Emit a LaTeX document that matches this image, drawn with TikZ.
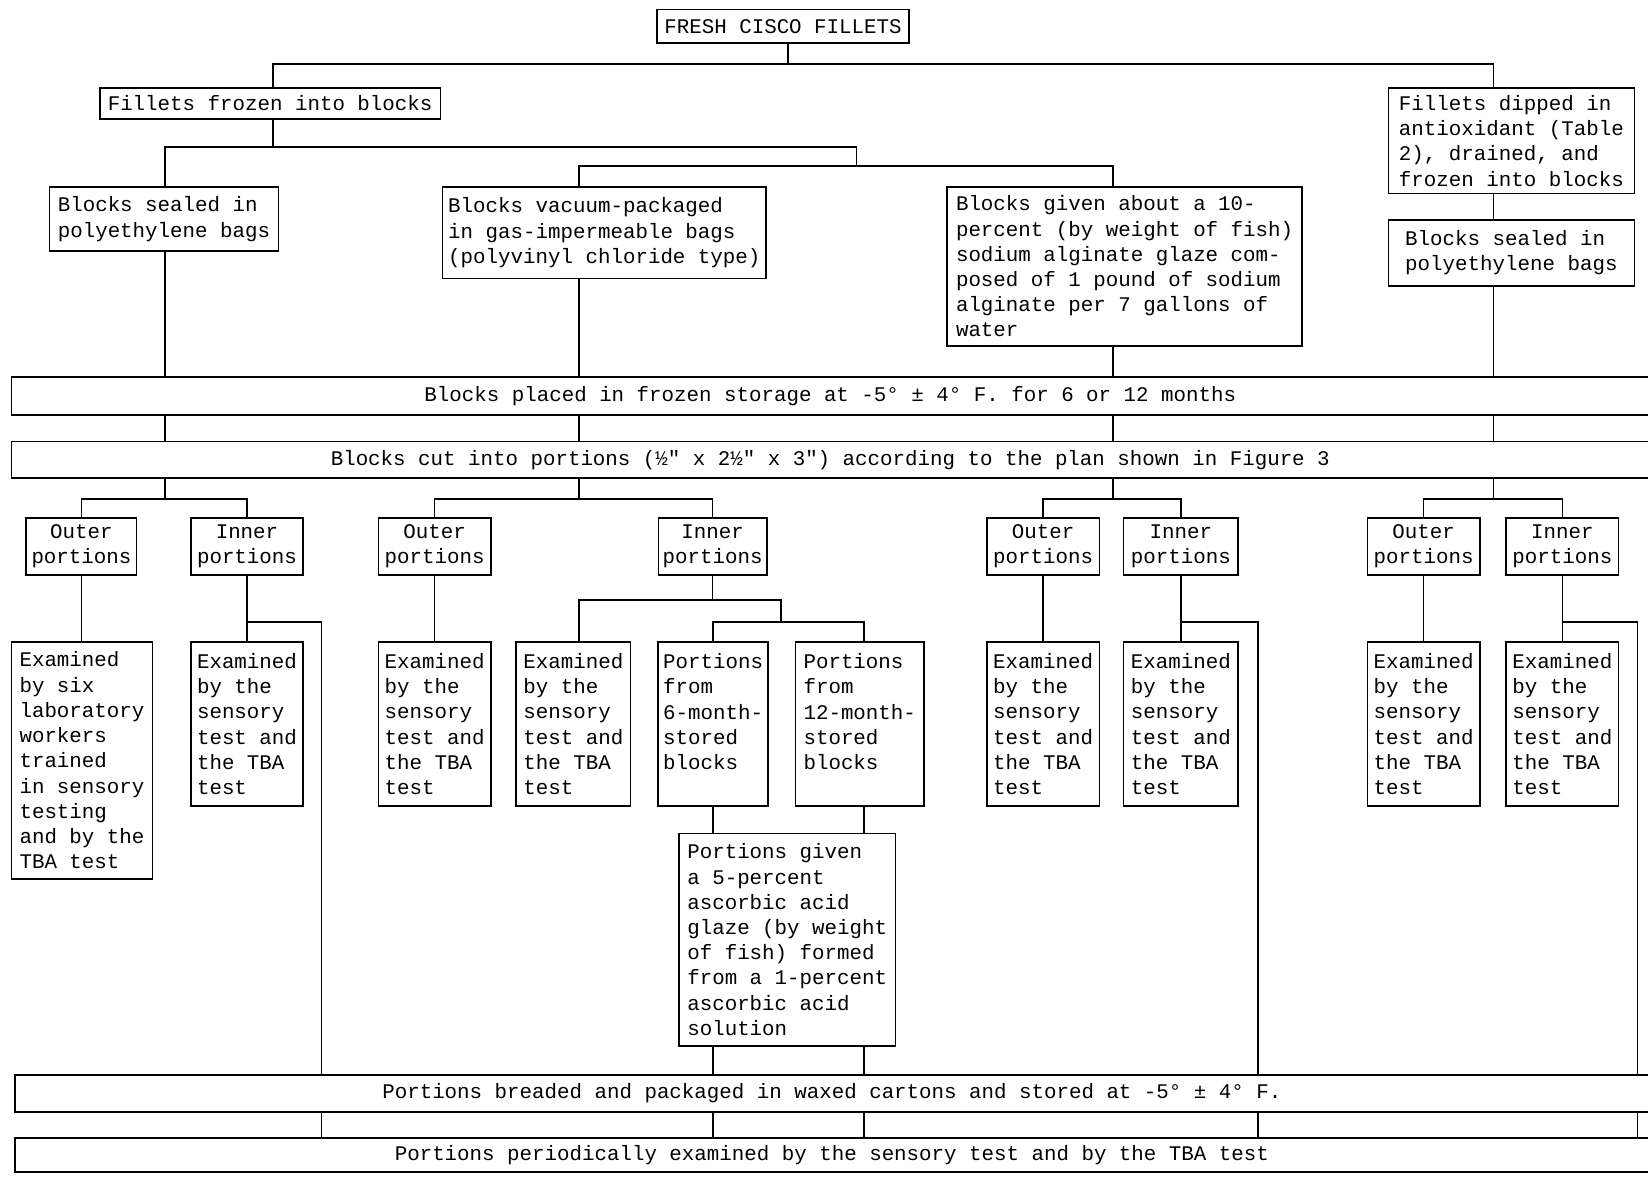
\documentclass[tikz,border=0pt]{standalone}
\usepackage{fontspec}
\setmonofont{Liberation Mono}
\usepackage{tikz}

\begin{document}
\begin{tikzpicture}[x=0.5pt, y=-0.5pt, thick, font=\ttfamily\fontsize{9.9}{12}\selectfont]
	\tikzstyle{box}=[draw=black, fill=white, inner sep=2pt, align=left]
	\tikzstyle{bar}=[draw=black, inner sep=2pt, minimum width=779pt]
	\tikzstyle{part}=[draw=black, inner sep=2pt, align=center, minimum height=27pt]
	\tikzstyle{exam}=[box, minimum height=78pt]
	\useasboundingbox (0,0) rectangle (1568,1121);
	\node[box, align=center, minimum width=120pt, minimum height=16pt]	(fresh)	at (745,25)	{FRESH CISCO FILLETS};
	\node[box, minimum width=162pt, minimum height=14.5pt]	(frz)	at (257,98.5)	{Fillets frozen into blocks};
	\node[box, minimum width=117pt, minimum height=50pt]	(dip)	at (1438,134)	{Fillets dipped in\\antioxidant (Table\\2), drained, and\\frozen into blocks};
	\node[box, minimum width=117pt, minimum height=31.5pt]	(bagR)	at (1438,240.5)	{Blocks sealed in\\polyethylene bags};
	\node[box, minimum width=109pt, minimum height=30.5pt]	(bagL)	at (156,208.5)	{Blocks sealed in\\polyethylene bags};
	\node[box, minimum width=154pt, minimum height=43.5pt]	(vac)	at (575,221.5)	{Blocks vacuum-packaged\\in gas-impermeable bags\\(polyvinyl chloride type)};
	\node[box, minimum width=169pt, minimum height=75.5pt]	(alg)	at (1070,253.5)	{Blocks given about a 10-\\percent (by weight of fish)\\sodium alginate glaze com-\\posed of 1 pound of sodium\\alginate per 7 gallons of\\water};
	\node[bar, minimum height=18pt]	(store)	at (790,377)	{Blocks placed in frozen storage at -5° ± 4° F. for 6 or 12 months};
	\node[bar, minimum height=17.5pt]	(cut)	at (790,437.5)	{Blocks cut into portions (½" x 2½" x 3") according to the plan shown in Figure 3};
	\node[part, minimum width=52.5pt]	(o1)	at (77.5,520)	{Outer\\portions};
	\node[part, minimum width=53pt]	(i1)	at (235,520)	{Inner\\portions};
	\node[part, minimum width=53.5pt]	(o2)	at (413.5,520)	{Outer\\portions};
	\node[part, minimum width=51pt]	(i2)	at (678,520)	{Inner\\portions};
	\node[part, minimum width=53.5pt]	(o3)	at (992.5,520)	{Outer\\portions};
	\node[part, minimum width=54.5pt]	(i3)	at (1123.5,520)	{Inner\\portions};
	\node[part, minimum width=53.5pt]	(o4)	at (1354.5,520)	{Outer\\portions};
	\node[part, minimum width=53.5pt]	(i4)	at (1486.5,520)	{Inner\\portions};
	\node[box, minimum width=67pt, minimum height=112.5pt]	(e1)	at (78,723.5)	{Examined\\by six\\laboratory\\workers\\trained\\in sensory\\testing\\and by the\\TBA test};
	\node[exam, minimum width=53pt]	(e2)	at (235,689)	{Examined\\by the\\sensory\\test and\\the TBA\\test};
	\node[exam, minimum width=53.5pt]	(e3)	at (413.5,689)	{Examined\\by the\\sensory\\test and\\the TBA\\test};
	\node[exam, minimum width=54.5pt]	(e4)	at (545.5,689)	{Examined\\by the\\sensory\\test and\\the TBA\\test};
	\node[exam, minimum width=52.5pt]	(p6)	at (678.5,689)	{Portions\\from\\6-month-\\stored\\blocks\\\mbox{}};
	\node[exam, minimum width=61pt]	(p12)	at (818,689)	{Portions\\from\\12-month-\\stored\\blocks\\\mbox{}};
	\node[exam, minimum width=53.5pt]	(e5)	at (992.5,689)	{Examined\\by the\\sensory\\test and\\the TBA\\test};
	\node[exam, minimum width=54.5pt]	(e6)	at (1123.5,689)	{Examined\\by the\\sensory\\test and\\the TBA\\test};
	\node[exam, minimum width=53.5pt]	(e7)	at (1354.5,689)	{Examined\\by the\\sensory\\test and\\the TBA\\test};
	\node[exam, minimum width=53.5pt]	(e8)	at (1486.5,689)	{Examined\\by the\\sensory\\test and\\the TBA\\test};
	\node[box, minimum width=103pt, minimum height=101pt]	(glz)	at (749,894)	{Portions given\\a 5-percent\\ascorbic acid\\glaze (by weight\\of fish) formed\\from a 1-percent\\ascorbic acid\\solution};
	\node[bar, minimum width=777.5pt, minimum height=17.5pt]	(bread)	at (791.5,1040.5)	{Portions breaded and packaged in waxed cartons and stored at -5° ± 4° F.};
	\node[bar, minimum width=777.5pt, minimum height=16pt]	(period)	at (791.5,1099)	{Portions periodically examined by the sensory test and by the TBA test};
	\coordinate (kF) at (750,0);
	\coordinate (kA) at (260,0);
	\coordinate (kR) at (1421,0);
	\coordinate (k1) at (157,0);
	\coordinate (kM) at (815,0);
	\coordinate (k2) at (551,0);
	\coordinate (k3) at (1059,0);
	\coordinate (kS) at (743,0);
	\coordinate (kP) at (822,0);
	\coordinate (kX1) at (306,0);
	\coordinate (kX3) at (1197,0);
	\coordinate (kX4) at (1558,0);
	\coordinate (r1) at (0,61);
	\coordinate (r2) at (0,140);
	\coordinate (r3) at (0,158);
	\coordinate (r4) at (0,475);
	\coordinate (r5) at (0,571);
	\coordinate (r6) at (0,592);
	\draw (fresh.south -| kF) -- (kF |- r1);
	\draw (frz.north -| kA) |- (kR |- r1) -- (dip.north -| kR);
	\draw (dip.south -| kR) -- (bagR.north -| kR);
	\draw (frz.south -| kA) -- (kA |- r2);
	\draw (bagL.north -| k1) |- (kM |- r2) -- (kM |- r3);
	\draw (vac.north -| k2) |- (k3 |- r3) -- (alg.north -| k3);
	\draw (bagL.south -| k1) -- (store.north -| k1);
	\draw (vac.south -| k2) -- (store.north -| k2);
	\draw (alg.south -| k3) -- (store.north -| k3);
	\draw (bagR.south -| kR) -- (store.north -| kR);
	\draw (store.south -| k1) -- (cut.north -| k1);
	\draw (store.south -| k2) -- (cut.north -| k2);
	\draw (store.south -| k3) -- (cut.north -| k3);
	\draw (store.south -| kR) -- (cut.north -| kR);
	\draw (cut.south -| k1) -- (k1 |- r4);
	\draw (cut.south -| k2) -- (k2 |- r4);
	\draw (cut.south -| k3) -- (k3 |- r4);
	\draw (cut.south -| kR) -- (kR |- r4);
	\draw (o1.north) |- (k1 |- r4) -| (i1.north);
	\draw (o2.north) |- (k2 |- r4) -| (i2.north);
	\draw (o3.north) |- (k3 |- r4) -| (i3.north);
	\draw (o4.north) |- (kR |- r4) -| (i4.north);
	\draw (o1.south) -- (o1.south |- e1.north);
	\draw (i1.south) -- (i1.south |- e2.north);
	\draw (o2.south) -- (o2.south |- e3.north);
	\draw (o3.south) -- (o3.south |- e5.north);
	\draw (i3.south) -- (i3.south |- e6.north);
	\draw (o4.south) -- (o4.south |- e7.north);
	\draw (i4.south) -- (i4.south |- e8.north);
	\draw (i2.south) -- (i2.south |- r5);
	\draw (e4.north -| k2) |- (kS |- r5) -- (kS |- r6);
	\draw (p6.north) |- (kS |- r6) -| (p12.north -| kP);
	\draw (p6.south) -- (p6.south |- glz.north);
	\draw (p12.south -| kP) -- (glz.north -| kP);
	\draw (glz.south -| p6) -- (bread.north -| p6);
	\draw (glz.south -| kP) -- (bread.north -| kP);
	\draw (i1.south |- r6) -| (bread.north -| kX1);
	\draw (i3.south |- r6) -| (bread.north -| kX3);
	\draw (i4.south |- r6) -| (bread.north -| kX4);
	\draw (bread.south -| kX1) -- (period.north -| kX1);
	\draw (bread.south -| p6) -- (period.north -| p6);
	\draw (bread.south -| kP) -- (period.north -| kP);
	\draw (bread.south -| kX3) -- (period.north -| kX3);
	\draw (bread.south -| kX4) -- (period.north -| kX4);
\end{tikzpicture}
\end{document}
